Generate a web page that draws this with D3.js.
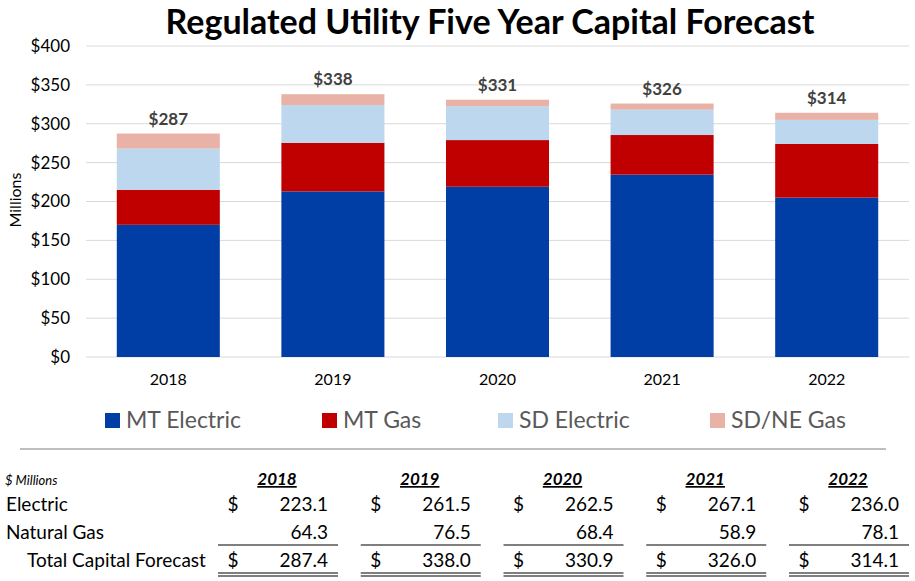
<!DOCTYPE html>
<html>
<head>
<meta charset="utf-8">
<title>Regulated Utility Five Year Capital Forecast</title>
<script src="https://cdn.jsdelivr.net/npm/d3@7/dist/d3.min.js"></script>
<style>
  body { margin: 0; background: #fff; }
  svg { font-family: Lato, "Open Sans", sans-serif; }
</style>
</head>
<body>
<svg id="chart" width="915" height="581"></svg>
<script>
// chart data ($ millions)
var years = ["2018", "2019", "2020", "2021", "2022"];
var mtElectric = [170, 213, 219, 234.5, 205];
var mtGas = [45, 62.5, 60, 51, 69];
var sdElectric = [53.1, 48.5, 43.5, 32.6, 31];
var sdneGas = [19.3, 14, 8.4, 7.9, 9.1];
var seriesNames = ["MT Electric", "MT Gas", "SD Electric", "SD/NE Gas"];
var yTicks = [0, 50, 100, 150, 200, 250, 300, 350, 400];

// table data
var electricRow = [223.1, 261.5, 262.5, 267.1, 236.0];
var gasRow = [64.3, 76.5, 68.4, 58.9, 78.1];
var totalRow = [287.4, 338.0, 330.9, 326.0, 314.1];

var colors = ["#003DA5", "#C00000", "#BDD7EE", "#E8B2A6"];

var svg = d3.select("#chart");

var rows = years.map(function (y, i) {
  return { year: y, "MT Electric": mtElectric[i], "MT Gas": mtGas[i],
           "SD Electric": sdElectric[i], "SD/NE Gas": sdneGas[i] };
});
var stack = d3.stack().keys(seriesNames)(rows);

var x = d3.scaleBand().domain(years).range([86, 909]).paddingInner(0.374).paddingOuter(0.187);
var y = d3.scaleLinear().domain([0, 400]).range([357, 46]);

// title
svg.append("text")
  .attr("x", 490).attr("y", 34)
  .attr("text-anchor", "middle")
  .attr("font-size", 34).attr("font-weight", "bold")
  .attr("fill", "#000")
  .text("Regulated Utility Five Year Capital Forecast");

// gridlines
svg.append("g").selectAll("line").data(yTicks).join("line")
  .attr("x1", 86).attr("x2", 909)
  .attr("y1", function (d) { return y(d); }).attr("y2", function (d) { return y(d); })
  .attr("stroke", "#d9d9d9").attr("stroke-width", 1);

// y axis
var yAxis = d3.axisLeft(y).tickValues(yTicks).tickSize(0).tickPadding(0)
  .tickFormat(function (d) { return "$" + d; });
var ya = svg.append("g").attr("transform", "translate(70,0)").call(yAxis);
ya.select(".domain").remove();
ya.selectAll("text").attr("font-size", 17).attr("fill", "#000").attr("font-family", "Lato, sans-serif");

svg.append("text")
  .attr("transform", "translate(21,200) rotate(-90)")
  .attr("text-anchor", "middle")
  .attr("font-size", 16).attr("fill", "#000")
  .text("Millions");

// bars
svg.append("g").selectAll("g").data(stack).join("g")
  .attr("fill", function (d, i) { return colors[i]; })
  .selectAll("rect").data(function (d) { return d; }).join("rect")
  .attr("x", function (d) { return x(d.data.year); })
  .attr("width", x.bandwidth())
  .attr("y", function (d) { return y(d[1]); })
  .attr("height", function (d) { return y(d[0]) - y(d[1]); });

// total labels
svg.append("g").selectAll("text").data(totalRow).join("text")
  .attr("x", function (d, i) { return x(years[i]) + x.bandwidth() / 2; })
  .attr("y", function (d, i) { return y(stack[3][i][1]) - 9; })
  .attr("text-anchor", "middle")
  .attr("font-size", 17).attr("font-weight", "bold").attr("fill", "#404040")
  .text(function (d) { return "$" + Math.round(d); });

// x axis
var xAxis = d3.axisBottom(x).tickSize(0).tickPadding(0);
var xa = svg.append("g").attr("transform", "translate(0,374)").call(xAxis);
xa.select(".domain").remove();
xa.selectAll("text").attr("font-size", 16).attr("fill", "#000").attr("font-family", "Lato, sans-serif");

// legend
var legendX = [105, 322, 498, 710];
var lg = svg.append("g").selectAll("g").data(seriesNames).join("g")
  .attr("transform", function (d, i) { return "translate(" + legendX[i] + ",420)"; });
lg.append("rect").attr("x", 0).attr("y", -7).attr("width", 15).attr("height", 15)
  .attr("fill", function (d, i) { return colors[i]; });
lg.append("text").attr("x", 21).attr("y", 8)
  .attr("font-size", 23).attr("fill", "#595959")
  .text(function (d) { return d; });

// table
svg.append("line").attr("x1", 20).attr("x2", 886).attr("y1", 449).attr("y2", 449)
  .attr("stroke", "#7f7f7f").attr("stroke-width", 1);

var tx = d3.scalePoint().domain(years).range([277, 848]);
var rowY = [511, 539, 567];

svg.append("text").attr("x", 5).attr("y", 485)
  .attr("font-size", 13).attr("font-style", "italic").attr("fill", "#000")
  .text("$ Millions");

svg.append("g").selectAll("text").data(years).join("text")
  .attr("x", function (d) { return tx(d); }).attr("y", 485)
  .attr("text-anchor", "middle")
  .attr("font-size", 17).attr("font-weight", "bold").attr("font-style", "italic")
  .attr("text-decoration", "underline").attr("fill", "#000")
  .text(function (d) { return d; });

var labels = [["Electric", 6], ["Natural Gas", 6], ["Total Capital Forecast", 27]];
svg.append("g").selectAll("text").data(labels).join("text")
  .attr("x", function (d) { return d[1]; })
  .attr("y", function (d, i) { return rowY[i]; })
  .attr("font-size", 19).attr("fill", "#000")
  .text(function (d) { return d[0]; });

var tableRows = [electricRow, gasRow, totalRow];
tableRows.forEach(function (row, r) {
  var g = svg.append("g");
  g.selectAll("text.v").data(row).join("text").attr("class", "v")
    .attr("x", function (d, i) { return tx(years[i]) + 51; })
    .attr("y", rowY[r])
    .attr("text-anchor", "end")
    .attr("font-size", 19).attr("fill", "#000")
    .text(function (d) { return d.toFixed(1); });
  if (r !== 1) {
    g.selectAll("text.s").data(row).join("text").attr("class", "s")
      .attr("x", function (d, i) { return tx(years[i]) - 44; })
      .attr("y", rowY[r])
      .attr("text-anchor", "middle")
      .attr("font-size", 19).attr("fill", "#000")
      .text("$");
  }
});

// single and double rules
var rules = [[545], [573, 576]];
rules.forEach(function (ys) {
  ys.forEach(function (yy) {
    svg.append("g").selectAll("line").data(years).join("line")
      .attr("x1", function (d) { return tx(d) - 59; })
      .attr("x2", function (d) { return tx(d) + 61; })
      .attr("y1", yy).attr("y2", yy)
      .attr("stroke", "#000").attr("stroke-width", 1.2);
  });
});
</script>
</body>
</html>
